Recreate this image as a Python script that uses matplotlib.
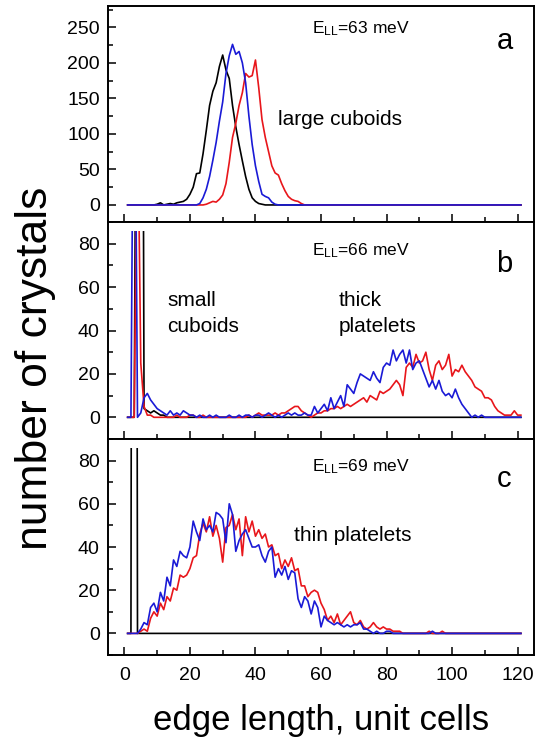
import numpy as np
import matplotlib
matplotlib.use("Agg")
import matplotlib.pyplot as plt
from matplotlib.patches import Rectangle
from matplotlib.ticker import MultipleLocator

plt.rcParams['font.family'] = 'Liberation Sans'
plt.rcParams['mathtext.fontset'] = 'custom'
plt.rcParams['mathtext.rm'] = 'Liberation Sans'

# histogram counts vs edge length (unit cells); each list starts at the given x
# and everything outside the listed stretch is zero, up to x = 121
x_end = 121

# (a) E_LL = 63 meV, large cuboids
a_black_start = 10
a_black = [1, 3, 0, 1, 2, 1, 3, 4, 5, 8, 15, 25, 44, 45, 72, 105, 140, 160, 172, 195,
           211, 190, 178, 140, 110, 85, 62, 40, 22, 10, 5, 2, 1]
a_red_start = 25
a_red = [1, 3, 5, 4, 8, 14, 30, 60, 95, 115, 140, 158, 185, 180, 182, 204, 165, 120,
         95, 75, 55, 45, 42, 30, 20, 12, 8, 6, 5, 2]
a_blue_start = 23
a_blue = [2, 10, 22, 40, 63, 88, 118, 145, 185, 210, 226, 212, 216, 200, 172, 125, 85,
          55, 33, 15, 12, 10, 4, 1]

# (b) E_LL = 66 meV, small cuboids + thick platelets
b_black_start = 4
b_black = [300, 520, 4, 3, 2, 3, 2, 1, 1]
b_red_start = 4
b_red = [150, 25, 5, 1, 1, 0, 0, 0, 0, 0, 0, 0, 1, 0, 0, 0, 1, 1, 0, 0, 1, 0, 0, 0, 0,
         0, 0, 0, 0, 0, 0, 0, 0, 0, 1, 0, 1, 2, 1, 1, 1,
         1, 2, 1, 2, 2, 3, 4, 5, 5, 3, 2, 1, 0, 1, 2, 2, 3, 3, 4, 4, 5, 4, 5, 6, 5, 6,
         7, 8, 9, 7, 10, 9, 8, 12, 11, 12, 13, 15, 17, 15, 10, 23, 25, 23, 29, 25, 26,
         30, 22, 17, 24, 26, 22, 24, 29, 19, 22, 21, 24, 21, 19, 17, 14, 13, 12, 9, 9,
         8, 5, 3, 2, 1, 1, 1, 3, 1, 1]
b_blue_start = 3
b_blue = [220, 0, 2, 9, 11, 8, 6, 4, 3, 2, 1, 3, 1, 2, 1, 3, 2, 1, 1, 0, 1, 0, 0, 1, 0,
          1, 0, 0, 0, 1, 0, 0, 1, 0, 1, 1, 0, 1, 1, 0, 1, 2,
          1, 0, 1, 0, 1, 2, 1, 2, 1, 1, 2, 1, 1, 5, 2, 4, 6, 3, 9, 4, 7, 10, 5, 15, 13,
          11, 16, 20, 19, 18, 17, 21, 18, 16, 23, 25, 24, 31, 26, 29, 31, 25, 31, 22,
          25, 26, 22, 18, 14, 17, 13, 17, 12, 10, 11, 9, 13, 9, 6, 4, 2, 0, 1, 0, 1]

# (c) E_LL = 69 meV, thin platelets
c_black_start = 3
c_black = [1000]
c_red_start = 5
c_red = [1, 2, 1, 7, 10, 8, 14, 11, 17, 15, 21, 20, 27, 26, 27, 30, 35, 36, 46, 51, 47,
         54, 45, 50, 44, 33, 49, 50, 55, 48, 53, 36, 54, 47, 52, 45, 48, 44, 46, 40, 41,
         36, 37, 30, 34, 31, 35, 29, 30, 22, 22, 17, 19, 20, 19, 14, 11, 6, 8, 5, 9, 4,
         6, 8, 10, 5, 4, 6, 3, 2, 3, 5, 3, 2, 3, 2, 2, 1, 1, 1, 0, 0, 0, 0, 0, 0, 0, 0,
         1, 0, 0, 0, 1]
c_blue_start = 5
c_blue = [2, 5, 4, 12, 14, 10, 19, 15, 26, 22, 34, 31, 38, 36, 35, 40, 52, 47, 43, 53,
          48, 50, 47, 56, 55, 53, 42, 60, 55, 38, 43, 46, 48, 44, 40, 40, 41, 36, 33, 38,
          40, 26, 30, 27, 31, 25, 29, 28, 16, 12, 17, 15, 9, 15, 12, 3, 8, 6, 5, 4, 5, 4,
          3, 4, 3, 4, 4, 5, 2, 2, 1, 0, 1, 0, 0, 1, 1, 0, 0, 0, 0, 0, 0, 0, 0, 0, 0, 0,
          0, 1]

energies = ['63', '66', '69']
panel_letters = ['a', 'b', 'c']
ylims = [(-24, 280), (-10, 90), (-10, 90)]
clip_tops = [280, 86, 86]


def full_series(start, counts):
    x = np.arange(1, x_end + 1)
    y = np.zeros_like(x, dtype=float)
    y[start - 1:start - 1 + len(counts)] = counts
    return x, y


panels = [
    [(a_black_start, a_black, 'black'), (a_red_start, a_red, '#e8161b'), (a_blue_start, a_blue, '#1a1ad6')],
    [(b_black_start, b_black, 'black'), (b_red_start, b_red, '#e8161b'), (b_blue_start, b_blue, '#1a1ad6')],
    [(c_black_start, c_black, 'black'), (c_red_start, c_red, '#e8161b'), (c_blue_start, c_blue, '#1a1ad6')],
]

fig = plt.figure(figsize=(5.37, 7.45), dpi=100)
W, H = 537.0, 745.0
left, right = 108, 534
edges = [(6, 222), (222, 439), (439, 655)]

axes = []
for i, (top, bottom) in enumerate(edges):
    ax = fig.add_axes([left / W, 1 - bottom / H, (right - left) / W, (bottom - top) / H])
    for start, counts, color in panels[i]:
        x, y = full_series(start, counts)
        line, = ax.plot(x, y, color=color, lw=1.2)
        # spikes run off the top, cut a little below the frame
        clip = Rectangle((-10, ylims[i][0]), 140, clip_tops[i] - ylims[i][0],
                         transform=ax.transData, visible=False)
        ax.add_patch(clip)
        line.set_clip_path(clip)
    ax.set_xlim(-5, 125)
    ax.set_ylim(*ylims[i])
    ax.xaxis.set_major_locator(MultipleLocator(20))
    ax.xaxis.set_minor_locator(MultipleLocator(10))
    if i == 0:
        ax.yaxis.set_major_locator(MultipleLocator(50))
        ax.yaxis.set_minor_locator(MultipleLocator(25))
    else:
        ax.yaxis.set_major_locator(MultipleLocator(20))
        ax.yaxis.set_minor_locator(MultipleLocator(10))
    ax.tick_params(which='both', direction='in', top=False, right=False,
                   labelsize=14, width=1.1)
    ax.tick_params(which='major', length=6, pad=6)
    ax.tick_params(which='minor', length=3.5)
    ax.tick_params(axis='x', which='major', pad=9)
    if i < 2:
        ax.tick_params(labelbottom=False)
    for sp in ax.spines.values():
        sp.set_linewidth(1.4)
    axes.append(ax)

ax_a, ax_b, ax_c = axes
e_y = [242, 74.5, 75]
letter_y = [220, 67, 67.7]
for i, ax in enumerate(axes):
    ax.text(57.3, e_y[i], r'$\mathregular{E_{LL}}$=' + energies[i] + ' meV',
            fontsize=12.5, va='baseline', ha='left')
    ax.text(113.5, letter_y[i], panel_letters[i], fontsize=21, va='baseline', ha='left')

ax_a.text(47, 113, 'large cuboids', fontsize=15, va='baseline')
ax_b.text(13, 51.5, 'small', fontsize=15, va='baseline')
ax_b.text(13, 39.5, 'cuboids', fontsize=15, va='baseline')
ax_b.text(65.3, 51.5, 'thick', fontsize=15, va='baseline')
ax_b.text(65.3, 39.5, 'platelets', fontsize=15, va='baseline')
ax_c.text(51.7, 43, 'thin platelets', fontsize=15, va='baseline')

ax_c.set_xlabel('edge length, unit cells', fontsize=25, labelpad=14)
fig.text(0.066, 0.505, 'number of crystals', rotation=90, fontsize=32,
         ha='center', va='center')

fig.savefig('out.png', dpi=100)
